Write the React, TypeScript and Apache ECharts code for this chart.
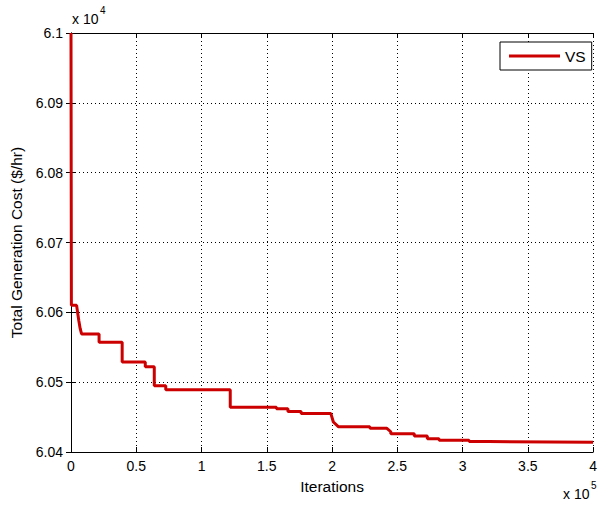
import React, { useEffect, useRef } from "react";
import * as echarts from "echarts";

// Iterations (raw) and total generation cost ($/hr, raw)
const iterations: number[] = [
  0, 300, 4300, 5200, 6000, 7000, 8100, 21500, 21500, 39200, 39200, 56900, 56900,
  63800, 63800, 72600, 72600, 122000, 122000, 157400, 157400, 166200, 166200,
  176300, 176300, 199100, 201000, 205000, 229000, 229000, 242000, 245000, 245000,
  263000, 263000, 273000, 273000, 282000, 282000, 305000, 305000, 320000, 320000,
  400000,
];
const cost: number[] = [
  61000, 60610, 60610, 60598, 60588, 60577, 60569, 60569, 60557, 60557, 60529,
  60529, 60522, 60522, 60495, 60495, 60489, 60489, 60464, 60464, 60462, 60462,
  60458, 60458, 60455, 60455, 60443, 60436, 60436, 60434, 60434, 60429, 60426,
  60426, 60423, 60423, 60419, 60419, 60417, 60417, 60415, 60415, 60414, 60414,
];
const seriesName = "VS";
const xTitle = "Iterations";
const yTitle = "Total Generation Cost ($/hr)";
const xMin = 0, xMax = 400000, xStep = 50000, xScale = 1e5;
const yMin = 60400, yMax = 61000, yStep = 100, yScale = 1e4;

const FONT = "'Liberation Sans', Arial, Helvetica, sans-serif";

export default function App() {
  const ref = useRef<HTMLDivElement>(null);
  useEffect(() => {
    if (!ref.current) return;
    const chart = echarts.init(ref.current, undefined, { renderer: "svg" });
    const data = iterations.map((x, i) => [x, cost[i]]);
    const fmt = (v: number, s: number) => String(Number((v / s).toFixed(3)));
    const gridLine = { show: true, lineStyle: { color: "#000", type: [1, 3] as any, width: 1 } };
    const axisLine = { show: true, lineStyle: { color: "#000", width: 1 } };
    const tick = { show: true, inside: true, length: 5, lineStyle: { color: "#000" } };
    chart.setOption({
      animation: false,
      backgroundColor: "#fff",
      textStyle: { fontFamily: FONT },
      grid: { left: 71, top: 33, right: 2, bottom: 55, containLabel: false },
      legend: {
        show: true,
        left: 500,
        top: 42,
        padding: [6, 6, 6, 9],
        itemWidth: 51,
        itemHeight: 3,
        itemGap: 5,
        borderColor: "#000",
        borderWidth: 1,
        backgroundColor: "#fff",
        textStyle: { fontFamily: FONT, fontSize: 15.5, color: "#000" },
        data: [{ name: seriesName, icon: "rect" }],
      },
      xAxis: [
        {
          type: "value",
          min: xMin,
          max: xMax,
          interval: xStep,
          name: xTitle,
          nameLocation: "middle",
          nameGap: 26,
          nameTextStyle: { fontFamily: FONT, fontSize: 15.5, color: "#000" },
          axisLine,
          axisTick: tick,
          splitLine: gridLine,
          axisLabel: {
            color: "#000",
            fontFamily: FONT,
            fontSize: 14,
            margin: 7,
            formatter: (v: number) => fmt(v, xScale),
          },
        },
        {
          type: "value",
          position: "top",
          min: xMin,
          max: xMax,
          interval: xStep,
          axisLine,
          axisTick: tick,
          splitLine: { show: false },
          axisLabel: { show: false },
        },
      ],
      yAxis: [
        {
          type: "value",
          min: yMin,
          max: yMax,
          interval: yStep,
          name: yTitle,
          nameLocation: "middle",
          nameGap: 45,
          nameTextStyle: { fontFamily: FONT, fontSize: 15.5, color: "#000" },
          axisLine,
          axisTick: tick,
          splitLine: gridLine,
          axisLabel: {
            color: "#000",
            fontFamily: FONT,
            fontSize: 14,
            margin: 8,
            formatter: (v: number) => fmt(v, yScale),
          },
        },
        {
          type: "value",
          position: "right",
          min: yMin,
          max: yMax,
          interval: yStep,
          axisLine,
          axisTick: tick,
          splitLine: { show: false },
          axisLabel: { show: false },
        },
      ],
      graphic: [
        { type: "text", left: 72, top: 12, style: { text: "x 10", font: `14px ${FONT}`, fill: "#000" } },
        { type: "text", left: 100, top: 5, style: { text: "4", font: `10px ${FONT}`, fill: "#000" } },
        { type: "text", left: 563, top: 487, style: { text: "x 10", font: `14px ${FONT}`, fill: "#000" } },
        { type: "text", left: 591, top: 480, style: { text: "5", font: `10px ${FONT}`, fill: "#000" } },
      ],
      series: [
        {
          name: seriesName,
          type: "line",
          data,
          showSymbol: false,
          symbol: "none",
          clip: true,
          lineStyle: { color: "#cc0000", width: 3 },
          itemStyle: { color: "#cc0000" },
          z: 5,
        },
      ],
    });
    return () => chart.dispose();
  }, []);
  return <div ref={ref} style={{ width: 600, height: 507, position: "absolute", left: 0, top: 0 }} />;
}
